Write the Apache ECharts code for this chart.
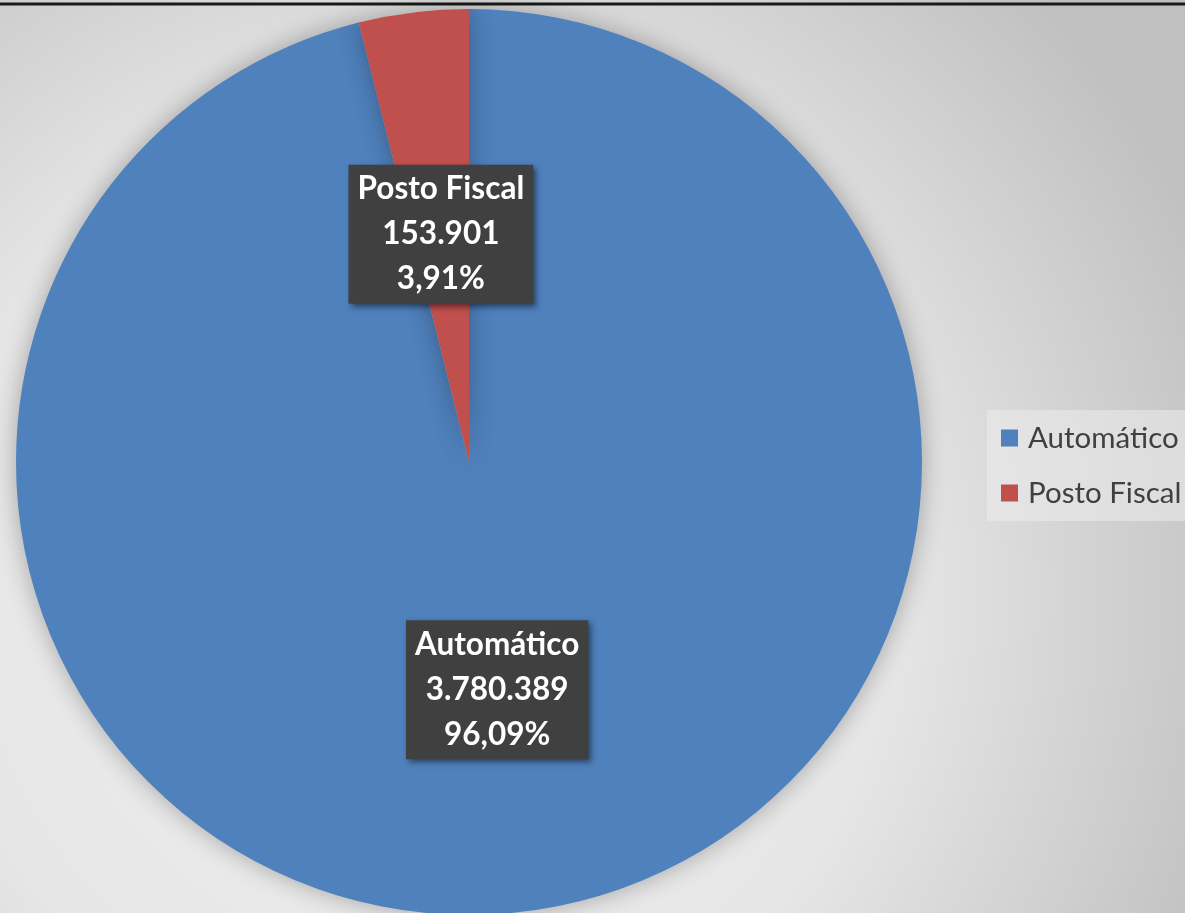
<!DOCTYPE html>
<html>
<head>
<meta charset="utf-8">
<script src="https://cdn.jsdelivr.net/npm/echarts@6/dist/echarts.min.js"></script>
<style>
html,body{margin:0;padding:0;}
#chart{width:1185px;height:913px;}
</style>
</head>
<body>
<div id="chart"></div>
<script>
var categories = ['Automático', 'Posto Fiscal'];
var values = [3780389, 153901];
var percentLabels = ['96,09%', '3,91%'];
var valueLabels = ['3.780.389', '153.901'];
var colors = ['#4f81bd', '#c0504d'];

var chart = echarts.init(document.getElementById('chart'));
var data = categories.map(function (c, i) {
  return { name: c, value: values[i], itemStyle: { color: colors[i] } };
});
chart.setOption({
  animation: false,
  backgroundColor: {
    type: 'radial', x: 0.35, y: 0.65, r: 0.95,
    colorStops: [
      { offset: 0, color: '#f0f0f0' },
      { offset: 0.55, color: '#e6e6e6' },
      { offset: 1, color: '#c0c0c0' }
    ]
  },
  graphic: [{
    type: 'line', shape: { x1: 0, y1: 4, x2: 1185, y2: 4 },
    style: { stroke: '#1a1a1a', lineWidth: 3 }
  }],
  legend: {
    orient: 'vertical',
    left: 987, top: 410,
    width: 198,
    padding: [13, 20, 13, 14],
    backgroundColor: 'rgba(236,236,236,0.55)',
    itemWidth: 17, itemHeight: 17, itemGap: 25,
    icon: 'rect',
    textStyle: { fontFamily: 'Lato', fontSize: 29.5, color: '#404040', padding: [0, 0, 0, 5] },
    data: categories
  },
  series: [{
    type: 'pie',
    center: [469, 462],
    radius: 453,
    startAngle: 90,
    clockwise: true,
    silent: true,
    itemStyle: { shadowBlur: 25, shadowColor: 'rgba(0,0,0,0.3)' },
    label: {
      show: true,
      position: 'inside',
      formatter: function (p) {
        return p.name + '\n' + valueLabels[p.dataIndex] + '\n' + percentLabels[p.dataIndex];
      },
      fontFamily: 'Lato',
      fontWeight: 'bold',
      fontSize: 31.5,
      lineHeight: 45,
      color: '#ffffff',
      backgroundColor: '#404040',
      padding: [2, 9, 2, 9],
      shadowColor: 'rgba(0,0,0,0.5)',
      shadowBlur: 6,
      shadowOffsetX: 3,
      shadowOffsetY: 3
    },
    labelLine: { show: false },
    data: data
  }]
});
</script>
</body>
</html>
